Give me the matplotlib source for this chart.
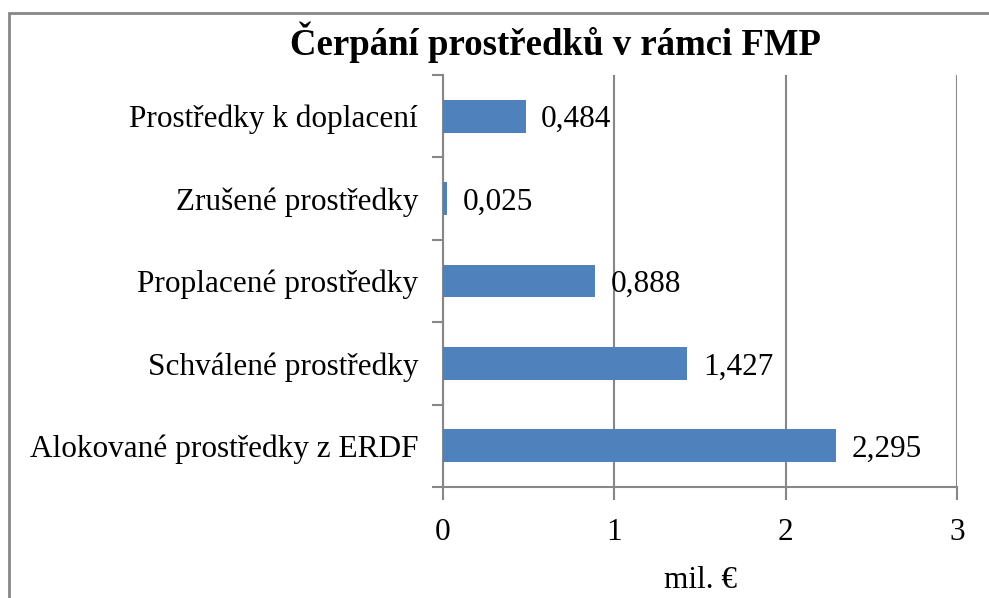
import matplotlib
matplotlib.use("Agg")
import matplotlib.pyplot as plt
from matplotlib.patches import Rectangle

categories = ["Alokované prostředky z ERDF", "Schválené prostředky",
              "Proplacené prostředky", "Zrušené prostředky",
              "Prostředky k doplacení"]
values = [2.295, 1.427, 0.888, 0.025, 0.484]
xticks = [0, 1, 2, 3]
title = "Čerpání prostředků v rámci FMP"
xlabel = "mil. €"

plt.rcParams['font.family'] = ['Liberation Serif', 'DejaVu Serif']
W, H = 989, 598
fig = plt.figure(figsize=(W / 100, H / 100), dpi=100)
ax = fig.add_axes([443 / W, 1 - 487 / H, (957 - 443) / W, (487 - 75) / H])

gray = "#878787"
blue = "#4F81BD"
fs = 22.5
ypos = list(range(len(categories)))
ax.barh(ypos, values, height=0.4, color=blue, zorder=3)
ax.set_xlim(0, 3)
ax.set_ylim(-0.5, len(categories) - 0.5)

ax.set_xticks(xticks)
ax.set_xticklabels([str(t) for t in xticks], fontsize=fs)
ax.tick_params(axis='x', length=9, width=1.5, color=gray, pad=13)
ax.set_yticks(ypos)
ax.set_yticklabels(categories, fontsize=fs)
ax.tick_params(axis='y', length=0, pad=18)
ax.set_yticks([y - 0.5 for y in range(len(categories) + 1)], minor=True)
ax.tick_params(axis='y', which='minor', length=8, width=1.5, color=gray)

ax.grid(axis='x', color=gray, linewidth=1.5, zorder=0)
for s in ['top', 'right']:
    ax.spines[s].set_visible(False)
for s in ['left', 'bottom']:
    ax.spines[s].set_color(gray)
    ax.spines[s].set_linewidth(1.5)

for y, v in zip(ypos, values):
    ax.annotate(f"{v:.3f}".replace('.', ','), (v, y), xytext=(11, -2.5),
                textcoords='offset points', va='center', ha='left', fontsize=fs)

ax.set_xlabel(xlabel, fontsize=fs, labelpad=14)
fig.text(555 / W, 1 - 42 / H, title, ha='center', va='center',
         fontsize=26.5, fontweight='bold')

fig.patches.append(Rectangle((9 / W, -0.1), 1.2, 1 - 13 / H + 0.1,
                             transform=fig.transFigure, fill=False,
                             edgecolor=gray, linewidth=2))

fig.savefig("out.png", dpi=100)
